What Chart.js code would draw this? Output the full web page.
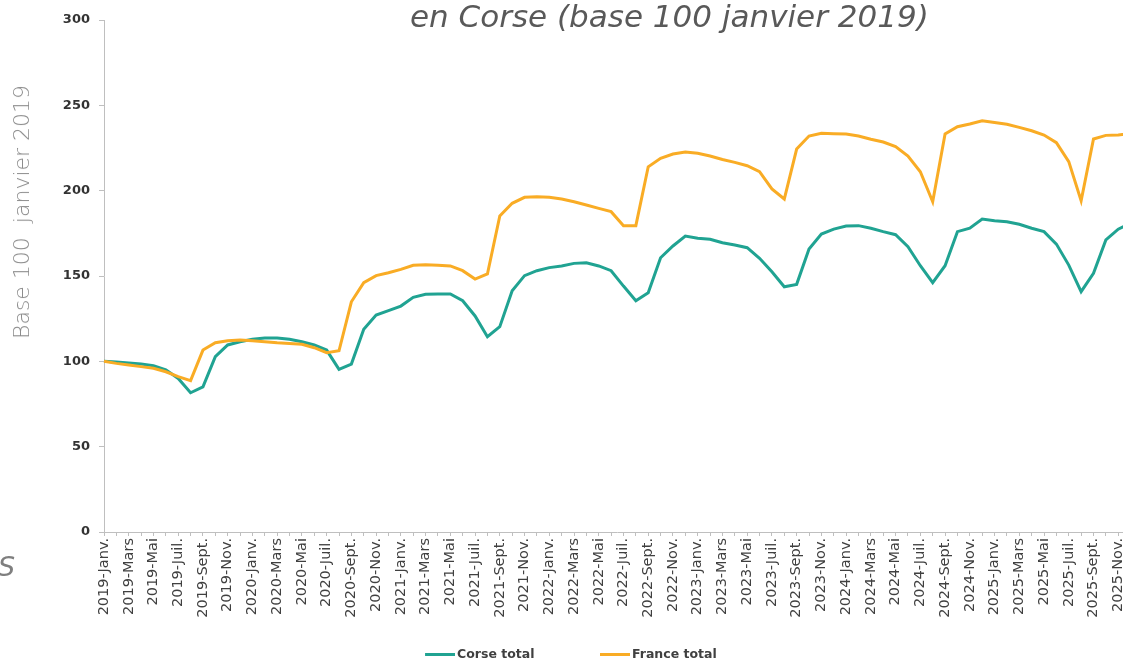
<!DOCTYPE html>
<html>
<head>
<meta charset="utf-8">
<script src="https://cdn.jsdelivr.net/npm/chart.js@4.4.1/dist/chart.umd.min.js"></script>
<style>
  html, body { margin:0; padding:0; background:#fff; overflow:hidden; width:1123px; height:659px; }
  #wrap { position:absolute; left:-54px; top:0; width:1204px; height:671px; }
  #title { position:absolute; left:410px; top:1px; font-family:"DejaVu Sans"; font-style:italic; font-size:31px; line-height:31px; color:#595959; white-space:nowrap; }
  #ytitle { position:absolute; left:22px; top:212px; transform:translate(-50%,-50%) rotate(-90deg); font-family:"DejaVu Sans"; font-weight:200; font-size:22px; line-height:22px; color:#8c8c8c; white-space:pre; }
  #cut { position:absolute; left:-2px; top:553px; font-family:"DejaVu Sans"; font-style:italic; font-size:27px; line-height:27px; color:#7f7f7f; }
</style>
</head>
<body>
<div id="wrap"><canvas id="c"></canvas></div>
<div id="title">en Corse (base 100 janvier 2019)</div>
<div id="ytitle">Base 100  janvier 2019</div>
<div id="cut">S</div>
<script>
// ---- Data ----
const years = [2019, 2020, 2021, 2022, 2023, 2024, 2025];
const monthNames = ['Janv.','Févr.','Mars','Avr.','Mai','Juin','Juil.','Août','Sept.','Oct.','Nov.','Déc.'];
const categories = [];
years.forEach(y => monthNames.forEach(m => categories.push(y + '-' + m)));

const corseTotal = [
  100, 99.6, 99, 98.4, 97.4, 95, 90, 81.6, 85, 102.7, 109.6, 111.5,
  112.9, 113.7, 113.7, 112.9, 111.5, 109.6, 106.6, 95.3, 98.4, 118.8, 127.1, 129.7,
  132.4, 137.5, 139.3, 139.5, 139.5, 135.5, 126.6, 114.4, 120.3, 141.4, 150.2, 153.1,
  154.9, 155.9, 157.4, 157.8, 155.9, 153.1, 144.1, 135.5, 140.2, 160.7, 167.6, 173.4,
  172.1, 171.5, 169.5, 168.2, 166.6, 160.4, 152.5, 143.7, 145.1, 165.8, 174.6, 177.5,
  179.3, 179.5, 178, 176, 174.2, 167.2, 156, 146.1, 156, 176, 178, 183.4,
  182.4, 181.8, 180.3, 178, 176, 168.7, 156.4, 140.8, 151.6, 171.1, 177.4, 181
];
const franceTotal = [
  100, 98.8, 97.8, 96.9, 95.9, 93.9, 91, 88.7, 106.6, 110.9, 112.1, 112.5,
  112.1, 111.5, 110.9, 110.5, 110, 108, 105.1, 106.2, 134.9, 146.1, 150.2, 151.9,
  153.9, 156.3, 156.6, 156.3, 155.9, 153.1, 148.2, 151.2, 185.2, 192.6, 196.1, 196.5,
  196.1, 195.1, 193.5, 191.6, 189.6, 187.7, 179.5, 179.5, 214, 219, 221.5, 222.7,
  221.9, 220.3, 218.3, 216.6, 214.6, 211.1, 201, 195.1, 224.4, 232, 233.6, 233.4,
  233.2, 232, 230.1, 228.5, 225.8, 220.3, 211.1, 193.5, 233.2, 237.5, 239.1, 241,
  239.9, 238.9, 237.1, 235.1, 232.6, 228.1, 217, 194.1, 230.3, 232.4, 232.6, 233.5
];
const seriesNames = ['Corse total', 'France total'];
const yMin = 0, yMax = 300, yStep = 50;

// ---- Styles ----
const TEAL = '#20A392';
const ORANGE = '#F9AC25';
const AXIS = '#bfbfbf';

// legend marker: a 30x3 line drawn at the right side of a small image
function legendMarker(color) {
  const c = document.createElement('canvas');
  c.width = 80; c.height = 3;
  const g = c.getContext('2d');
  g.fillStyle = color;
  g.fillRect(50, 0, 30, 3);
  return c;
}

new Chart(document.getElementById('c'), {
  type: 'line',
  data: {
    labels: categories,
    datasets: [
      { label: seriesNames[0], data: corseTotal, borderColor: TEAL, backgroundColor: TEAL,
        borderWidth: 3, pointRadius: 0, tension: 0, order: 1 },
      { label: seriesNames[1], data: franceTotal, borderColor: ORANGE, backgroundColor: ORANGE,
        borderWidth: 3, pointRadius: 0, tension: 0, order: 0 }
    ]
  },
  options: {
    responsive: true,
    maintainAspectRatio: false,
    animation: false,
    layout: { padding: { top: 20, left: 0, right: 0, bottom: 0 } },
    plugins: {
      tooltip: { enabled: false },
      legend: {
        position: 'bottom',
        labels: {
          usePointStyle: true, pointStyleWidth: 71.5, boxHeight: 3, padding: 19.75,
          color: '#404040',
          font: { family: 'DejaVu Sans', size: 12.5, weight: 'bold' },
          generateLabels: chart => Chart.defaults.plugins.legend.labels.generateLabels(chart)
            .sort((a, b) => a.datasetIndex - b.datasetIndex)
            .map(it => Object.assign(it, { pointStyle: legendMarker(it.strokeStyle), lineWidth: 0 }))
        }
      }
    },
    scales: {
      x: {
        offset: false,
        grid: { drawOnChartArea: false, drawTicks: true, tickLength: 4, color: AXIS },
        border: { display: true, color: AXIS, width: 1 },
        ticks: {
          autoSkip: false, minRotation: 90, maxRotation: 90, padding: 2,
          color: '#404040', font: { family: 'DejaVu Sans', size: 14.5 },
          callback: (v, i) => (i % 2 === 0 ? categories[i] : '')
        },
        afterFit: s => { s.height = 96.75; }
      },
      y: {
        min: yMin, max: yMax,
        grid: { drawOnChartArea: false, drawTicks: true, tickLength: 5, color: AXIS },
        border: { display: true, color: AXIS, width: 1 },
        ticks: {
          stepSize: yStep, padding: 9, color: '#333333',
          font: { family: 'DejaVu Sans', size: 13, weight: 'bold' }
        },
        afterFit: s => { s.width = 158; }
      }
    }
  }
});
</script>
</body>
</html>
